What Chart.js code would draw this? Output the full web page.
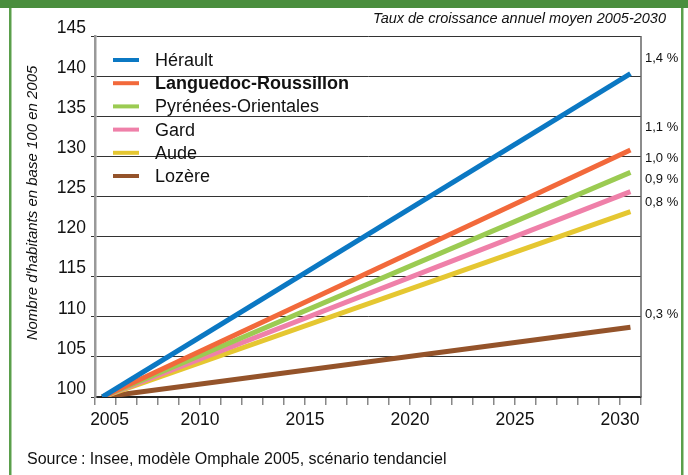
<!DOCTYPE html>
<html>
<head>
<meta charset="utf-8">
<script src="https://cdn.jsdelivr.net/npm/chart.js@4.4.0/dist/chart.umd.min.js"></script>
<style>
  html, body { margin: 0; padding: 0; background: #fff; }
  canvas { display: block; }
</style>
</head>
<body>
<canvas id="myChart" width="688" height="475"></canvas>
<script>
// Data
let years = [2005, 2030];
let herault = [100, 140.3];
let languedoc = [100, 130.8];
let pyrenees = [100, 128.0];
let gard = [100, 125.6];
let aude = [100, 123.1];
let lozere = [100, 108.7];

let seriesNames = ["Hérault", "Languedoc-Roussillon", "Pyrénées-Orientales", "Gard", "Aude", "Lozère"];
let growthRates = ["1,4 %", "1,1 %", "1,0 %", "0,9 %", "0,8 %", "0,3 %"];
let xTickLabels = ["2005", "2010", "2015", "2020", "2025", "2030"];
let yMin = 100, yMax = 145, yStep = 5;

let colors = ["#0b78c3", "#f2693b", "#9bcb52", "#ef80a9", "#e5c731", "#94532a"];
let font = "'Liberation Sans', Arial, sans-serif";
let seriesValues = [herault, languedoc, pyrenees, gard, aude, lozere];

let datasets = seriesValues.map((vals, i) => ({
    label: seriesNames[i],
    data: vals.map((v, j) => ({ x: years[j], y: v })),
    borderColor: colors[i],
    backgroundColor: colors[i],
    borderWidth: 5,
    borderCapStyle: 'butt',
    pointRadius: 0,
    tension: 0
}));

// frame, legend and the extra texts
let overlay = {
    id: 'overlay',
    beforeDraw(chart) {
        let ctx = chart.ctx;
        ctx.save();
        ctx.fillStyle = "#fff";
        ctx.fillRect(0, 0, chart.width, chart.height);
        ctx.fillStyle = "#4a8e3e";
        ctx.fillRect(0, 0, chart.width, 8);
        ctx.fillStyle = "#5a9f4b";
        ctx.fillRect(9, 8, 2.5, chart.height);
        ctx.fillRect(681, 8, 2.5, chart.height);
        ctx.restore();
    },
    afterDatasetsDraw(chart) {
        let a = chart.chartArea, ctx = chart.ctx;
        ctx.save();
        ctx.strokeStyle = "#666";
        ctx.lineWidth = 1.5;
        ctx.beginPath();
        ctx.moveTo(a.right, a.top);
        ctx.lineTo(a.right, a.bottom);
        ctx.stroke();
        ctx.restore();
    },
    afterDraw(chart, args, opts) {
        let ctx = chart.ctx, a = chart.chartArea, y = chart.scales.y;
        ctx.save();
        ctx.fillStyle = "#111";

        // legend
        ctx.textBaseline = "middle";
        ctx.textAlign = "left";
        chart.data.datasets.forEach((ds, i) => {
            let ly = 61 + i * 23.2;
            ctx.strokeStyle = ds.borderColor;
            ctx.lineWidth = 4;
            ctx.beginPath();
            ctx.moveTo(113, ly - 1);
            ctx.lineTo(139, ly - 1);
            ctx.stroke();
            ctx.font = (i === 1 ? "bold " : "") + "18px " + font;
            ctx.fillText(ds.label, 155, ly);
        });

        // growth rates on the right
        ctx.font = "13px " + font;
        growthRates.forEach((t, i) => {
            ctx.fillText(t, a.right + 4, y.getPixelForValue(opts.labelAt[i]));
        });

        // caption top right
        ctx.font = "italic 14.5px " + font;
        ctx.textAlign = "right";
        ctx.fillText("Taux de croissance annuel moyen 2005-2030", 666, 19);

        // source
        ctx.font = "16px " + font;
        ctx.textAlign = "left";
        ctx.fillText("Source\u2009: Insee, modèle Omphale 2005, scénario tendanciel", 27, 460);

        // y title
        ctx.translate(33, 203);
        ctx.rotate(-Math.PI / 2);
        ctx.textAlign = "center";
        ctx.font = "italic 15px " + font;
        ctx.fillText("Nombre d'habitants en base 100 en 2005", 0, 0);
        ctx.restore();
    }
};

new Chart(document.getElementById("myChart"), {
    type: 'line',
    data: { datasets: datasets },
    plugins: [overlay],
    options: {
        responsive: false,
        animation: false,
        layout: { padding: { left: 0, right: 47, top: 36, bottom: 0 } },
        plugins: {
            legend: { display: false },
            tooltip: { enabled: false },
            overlay: { labelAt: [142.2, 133.6, 129.7, 127.1, 124.2, 110.25] }
        },
        scales: {
            x: {
                type: 'linear',
                min: 2004.65,
                max: 2030.5,
                afterBuildTicks: (s) => {
                    let n = 26, step = (s.max - s.min) / n;
                    s.ticks = [];
                    for (let k = 0; k <= n; k++) s.ticks.push({ value: s.min + k * step });
                },
                afterFit: (s) => { s.height = 78; },
                grid: { drawOnChartArea: false, drawTicks: true, tickLength: 8, color: "#888", lineWidth: 1.5 },
                border: { display: true, color: "#222", width: 2 },
                ticks: {
                    autoSkip: false,
                    maxRotation: 0,
                    padding: 5,
                    color: "#111",
                    font: { family: font, size: 17.5 },
                    callback: (v, i) => {
                        if (i % 5 !== 0 || i / 5 >= xTickLabels.length) return "";
                        let t = xTickLabels[i / 5];
                        return i === 0 ? "\u2007\u2007\u2007" + t : t;
                    }
                }
            },
            y: {
                min: yMin,
                max: yMax,
                afterFit: (s) => { s.width = 95; },
                grid: { color: "#333", lineWidth: 1, tickLength: 4 },
                border: { display: true, color: "#999", width: 2.5 },
                ticks: {
                    stepSize: yStep,
                    padding: 5,
                    labelOffset: -8,
                    color: "#111",
                    font: { family: font, size: 17.5 }
                }
            }
        }
    }
});
</script>
</body>
</html>
